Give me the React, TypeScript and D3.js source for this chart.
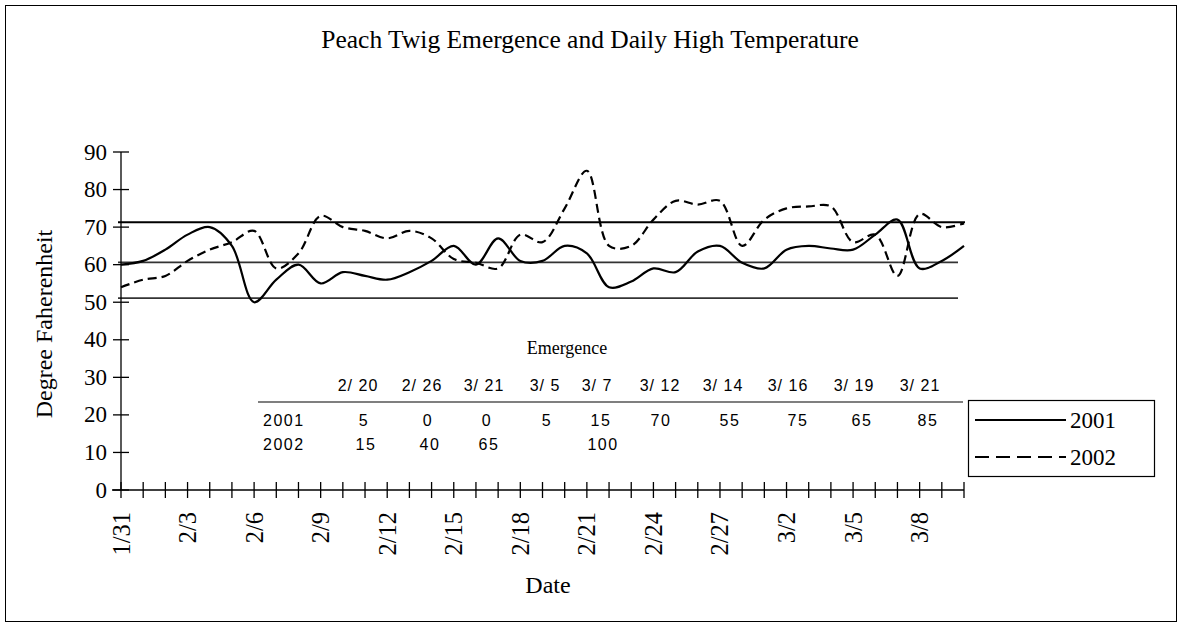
import React from "react";
import * as d3 from "d3";

const dates = ["1/31","2/1","2/2","2/3","2/4","2/5","2/6","2/7","2/8","2/9","2/10","2/11","2/12","2/13","2/14","2/15","2/16","2/17","2/18","2/19","2/20","2/21","2/22","2/23","2/24","2/25","2/26","2/27","2/28","3/1","3/2","3/3","3/4","3/5","3/6","3/7","3/8","3/9","3/10"];
const temp2001 = [60, 61, 64, 68, 70, 65, 50, 56, 60, 55, 58, 57, 56, 58, 61, 65, 60, 67, 61, 61, 65, 63, 54, 55.5, 59, 58, 63.5, 65, 60.5, 59, 64, 65, 64.3, 64, 68, 72, 59, 61, 65];
const temp2002 = [54, 56, 57, 61, 64, 66, 69, 59, 63, 73, 70, 69, 67, 69, 67, 61.5, 60.5, 59, 68, 66, 75, 85, 65, 65, 72, 77, 76, 77, 65, 72, 75, 75.5, 75.5, 66, 68, 57, 73.5, 70, 71];
const refLines = [71.3, 60.6, 51.1];
const yTicks = [0, 10, 20, 30, 40, 50, 60, 70, 80, 90];
const labelEvery = 3;

const emergenceHeaders = ["2/ 20","2/ 26","3/ 21","3/ 5","3/ 7","3/ 12","3/ 14","3/ 16","3/ 19","3/ 21"];
const emergence2001 = ["5","0","0","5","15","70","55","75","65","85"];
const emergence2002 = ["15","40","65","","100","","","","",""];
const seriesNames = ["2001", "2002"];

// layout constants
const headerX = [358, 422, 484, 545, 597, 660, 723, 788, 854, 920];
const valueX = [364, 428, 487, 547, 601, 661, 730, 798, 862, 928];

const serif = "'Liberation Serif', 'Times New Roman', serif";
const sans = "'Liberation Sans', Arial, sans-serif";

export default function App() {
  const x = d3.scaleLinear().domain([0, dates.length - 1]).range([121, 964]);
  const y = d3.scaleLinear().domain([0, 90]).range([490, 152]);
  const line = d3
    .line<number>()
    .x((_, i) => x(i))
    .y((d) => y(d))
    .curve(d3.curveCatmullRom.alpha(0.5));

  return (
    <svg width={1183} height={628} style={{ position: "absolute", left: 0, top: 0, background: "#fff" }}>
      <rect x={5.5} y={5.5} width={1171} height={616} fill="#fff" stroke="#000" strokeWidth={1} />
      <text x={590} y={48} textAnchor="middle" fontFamily={serif} fontSize={25.5}>
        Peach Twig Emergence and Daily High Temperature
      </text>

      {/* reference lines */}
      {refLines.map((v, i) => (
        <line key={i} x1={118} x2={i === 0 ? 965 : 958} y1={y(v)} y2={y(v)} stroke={i === 0 ? "#000" : "#333"} strokeWidth={i === 0 ? 2 : 1.6} />
      ))}

      {/* y axis */}
      <line x1={x(0)} x2={x(0)} y1={y(90)} y2={y(0)} stroke="#000" strokeWidth={1.3} />
      {yTicks.map((t) => (
        <g key={t}>
          <line x1={x(0) - 8} x2={x(0) + 8} y1={y(t)} y2={y(t)} stroke="#000" strokeWidth={1.3} />
          <text x={107} y={y(t) + 7.5} textAnchor="end" fontFamily={serif} fontSize={23}>{t}</text>
        </g>
      ))}
      <text transform={`translate(52,324) rotate(-90)`} textAnchor="middle" fontFamily={serif} fontSize={24}>
        Degree Faherenheit
      </text>

      {/* x axis */}
      <line x1={112} x2={x(dates.length - 1)} y1={y(0)} y2={y(0)} stroke="#000" strokeWidth={1.3} />
      {dates.map((d, i) => (
        <g key={i}>
          <line x1={x(i)} x2={x(i)} y1={y(0) - 8} y2={y(0) + 8} stroke="#000" strokeWidth={1.3} />
          {i % labelEvery === 0 && (
            <text transform={`translate(${x(i) + 8.5},512) rotate(-90)`} textAnchor="end" fontFamily={serif} fontSize={24.5}>{d}</text>
          )}
        </g>
      ))}
      <text x={548} y={593} textAnchor="middle" fontFamily={serif} fontSize={24}>Date</text>

      {/* series */}
      <path d={line(temp2001) || ""} fill="none" stroke="#000" strokeWidth={2.2} />
      <path d={line(temp2002) || ""} fill="none" stroke="#000" strokeWidth={2.2} strokeDasharray="9,5" />

      {/* emergence table */}
      <text x={567} y={354} textAnchor="middle" fontFamily={serif} fontSize={18}>Emergence</text>
      {emergenceHeaders.map((h, i) => (
        <text key={"h" + i} x={headerX[i]} y={391} textAnchor="middle" fontFamily={sans} fontSize={16} letterSpacing={1}>{h}</text>
      ))}
      <line x1={258} x2={963} y1={402} y2={402} stroke="#000" strokeWidth={1.2} />
      <text x={263} y={426} fontFamily={sans} fontSize={16} letterSpacing={1.5}>{seriesNames[0]}</text>
      <text x={263} y={450} fontFamily={sans} fontSize={16} letterSpacing={1.5}>{seriesNames[1]}</text>
      {emergence2001.map((v, i) => (
        <text key={"a" + i} x={valueX[i]} y={426} textAnchor="middle" fontFamily={sans} fontSize={16} letterSpacing={1.5}>{v}</text>
      ))}
      {emergence2002.map((v, i) => (
        <text key={"b" + i} x={valueX[i] + 2} y={450} textAnchor="middle" fontFamily={sans} fontSize={16} letterSpacing={1.5}>{v}</text>
      ))}

      {/* legend */}
      <rect x={968.5} y={400.5} width={186} height={76} fill="#fff" stroke="#000" strokeWidth={1.2} />
      <line x1={975} x2={1066} y1={420} y2={420} stroke="#000" strokeWidth={2.2} />
      <text x={1070} y={428} fontFamily={serif} fontSize={23}>{seriesNames[0]}</text>
      <line x1={975} x2={1066} y1={457} y2={457} stroke="#000" strokeWidth={2.2} strokeDasharray="14,7" />
      <text x={1070} y={465} fontFamily={serif} fontSize={23}>{seriesNames[1]}</text>
    </svg>
  );
}
